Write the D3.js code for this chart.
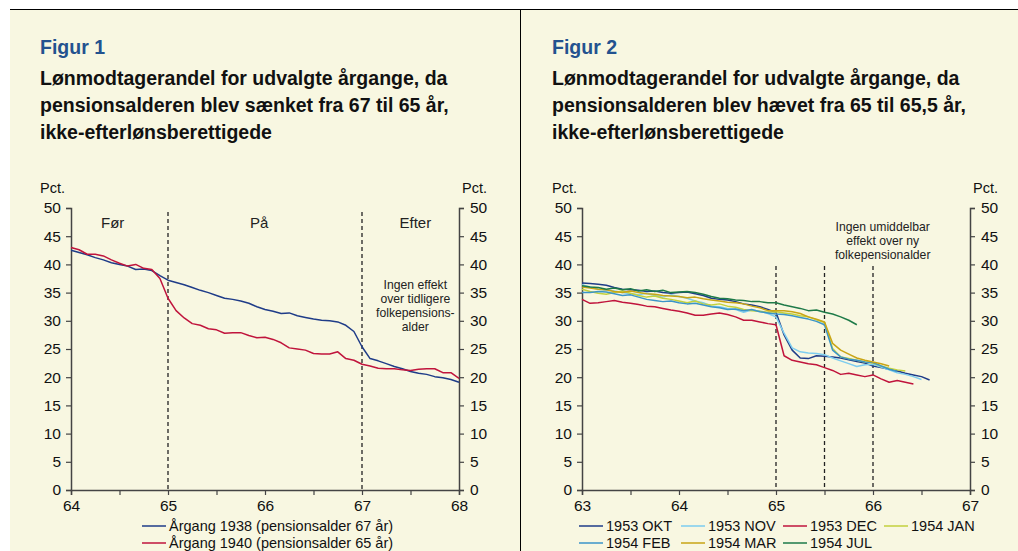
<!DOCTYPE html>
<head>
  <meta charset="utf-8">
  <script src="https://cdn.jsdelivr.net/npm/d3@7"></script>
  <style>
    body { margin:0; background:#fff; }
    svg text { font-family: Arial, "Liberation Sans", sans-serif; fill:#111; }
  </style>
</head>
<body>
<div id="figure"></div>
<script>
// ---- data, figur 1 (monthly from age 64) ----
var fig1Start = 64;
var aarg1938 = [42.5,42.1,41.7,41.2,40.8,40.3,40.0,39.7,39.1,39.2,38.9,38.0,
  37.2,36.8,36.4,35.9,35.4,35.0,34.5,34.0,33.8,33.5,33.1,32.5,
  32.0,31.7,31.3,31.4,30.9,30.6,30.3,30.1,30.0,29.8,29.2,28.1,
  25.4,23.3,22.9,22.4,21.9,21.5,21.0,20.7,20.5,20.1,19.9,19.6,19.1];
var aarg1940 = [43.0,42.6,41.8,41.8,41.5,40.8,40.2,39.7,40.0,39.3,39.1,37.5,
  34.0,31.8,30.5,29.5,29.2,28.6,28.4,27.8,27.9,27.9,27.4,27.0,
  27.1,26.7,26.1,25.2,25.0,24.8,24.2,24.1,24.1,24.5,23.3,23.0,
  22.3,22.0,21.6,21.5,21.5,21.3,21.2,21.4,21.5,21.5,20.8,20.8,19.8];
var fig1Names = ["Årgang 1938 (pensionsalder 67 år)", "Årgang 1940 (pensionsalder 65 år)"];
var fig1Colors = ["#1f3c88", "#c0143c"];

// ---- data, figur 2 (monthly from age 63) ----
var fig2Start = 63;
var okt1953 = [36.7,36.6,36.5,36.3,35.9,35.6,35.5,35.4,35.2,35.3,35.0,34.9,
  35.0,35.1,34.8,34.5,34.0,33.8,33.7,33.4,33.0,32.8,32.5,32.0,
  31.5,27.5,24.8,23.4,23.3,23.8,23.7,23.6,23.4,23.1,22.8,22.5,
  22.0,21.7,21.4,21.1,20.7,20.4,20.1,19.5];
var nov1953 = [36.4,36.0,35.6,35.4,35.3,35.0,34.8,34.6,34.9,34.5,34.2,34.6,
  34.3,34.0,33.5,33.2,32.6,32.5,32.2,32.0,31.5,31.9,31.7,31.3,
  30.7,27.8,25.2,24.5,24.3,24.2,24.0,23.4,22.9,22.4,21.9,22.2,
  22.3,21.8,21.3,20.8,20.5,20.1,19.6];
var dec1953 = [33.8,33.1,33.2,33.4,33.6,33.3,33.1,32.9,32.6,32.5,32.2,31.9,
  31.7,31.4,31.0,31.0,31.2,31.4,31.1,30.7,30.1,30.1,29.8,29.5,
  29.3,23.8,23.0,22.7,22.4,22.2,21.7,21.2,20.5,20.7,20.4,20.1,
  20.4,19.7,19.1,19.4,19.1,18.8];
var jan1954 = [35.6,35.2,34.9,34.7,35.0,35.3,34.9,34.5,34.2,34.4,34.0,33.8,
  33.5,33.2,33.5,33.0,32.8,33.0,32.6,32.4,32.0,31.8,31.7,31.5,
  31.6,31.4,31.2,30.9,30.7,30.2,29.7,25.1,23.6,23.3,23.0,22.7,
  22.5,22.0,21.6,21.3,21.1];
var feb1954 = [35.0,35.0,35.2,35.1,34.8,34.5,34.6,34.2,33.8,33.6,33.4,33.5,
  33.2,33.0,33.1,32.8,32.5,32.3,32.0,32.1,31.8,32.0,31.6,31.4,
  31.2,31.1,30.9,30.6,30.3,29.9,29.3,24.8,23.6,23.2,23.0,22.7,
  22.6,22.0,21.4,21.0];
var mar1954 = [36.0,35.8,35.6,35.5,35.2,35.0,35.3,35.0,34.8,34.7,34.5,34.4,
  34.3,34.1,34.2,33.9,33.7,33.5,33.3,33.2,33.0,32.6,32.3,31.8,
  31.8,31.8,31.6,31.3,30.7,30.3,29.8,26.0,24.8,24.1,23.4,23.0,
  22.7,22.4,22.0];
var jul1954 = [36.2,36.0,35.9,35.6,35.8,35.5,35.7,35.3,35.5,35.2,35.4,35.0,
  35.1,35.2,35.0,34.7,34.3,34.0,33.9,33.7,33.6,33.4,33.4,33.2,
  33.2,32.8,32.5,32.2,31.8,31.9,31.5,31.2,30.7,30.1,29.3];
var fig2Names = ["1953 OKT","1953 NOV","1953 DEC","1954 JAN","1954 FEB","1954 MAR","1954 JUL"];
var fig2Colors = ["#1f3c88","#7dcdef","#c0143c","#c3d13c","#3b95c8","#c9a515","#1e7a48"];

var yTicks = [0,5,10,15,20,25,30,35,40,45,50];

var W = 1018, H = 551;
var svg = d3.select("#figure").append("svg")
  .attr("width", W).attr("height", H);

svg.append("rect").attr("x",10).attr("y",9).attr("width",W-10).attr("height",H-9)
  .attr("fill","#f8f7e1");
svg.append("line").attr("x1",10).attr("x2",W).attr("y1",9.5).attr("y2",9.5)
  .attr("stroke","#000").attr("stroke-width",1);
svg.append("line").attr("x1",520.5).attr("x2",520.5).attr("y1",9).attr("y2",H)
  .attr("stroke","#000").attr("stroke-width",1);

function panel(o) {
  var g = svg.append("g");
  g.append("text").attr("x",o.left).attr("y",54).attr("font-size",19.5).attr("font-weight","bold")
    .style("fill","#23528f").text(o.fig);
  o.title.forEach(function(t,i){
    g.append("text").attr("x",o.left).attr("y",85+i*27).attr("font-size",19.5)
      .attr("font-weight","bold").text(t);
  });

  var x = d3.scaleLinear().domain(o.xdom).range([o.x0, o.x1]);
  var y = d3.scaleLinear().domain([0,50]).range([490,208]);

  g.append("text").attr("x",o.left).attr("y",193).attr("font-size",14.5).text("Pct.");
  g.append("text").attr("x",o.x1+3).attr("y",193).attr("font-size",14.5).text("Pct.");

  // dashed markers
  o.marks.forEach(function(m){
    g.append("line").attr("x1",x(m)).attr("x2",x(m)).attr("y1",o.markTop).attr("y2",490)
      .attr("stroke","#222").attr("stroke-width",1.3).attr("stroke-dasharray","4,3");
  });

  var yl = g.append("g").attr("transform","translate("+o.x0+",0)")
    .call(d3.axisLeft(y).tickValues(yTicks).tickSize(5).tickPadding(4));
  var yr = g.append("g").attr("transform","translate("+o.x1+",0)")
    .call(d3.axisRight(y).tickValues(yTicks).tickSize(5).tickPadding(6));
  var xMinor = d3.range(o.xdom[0], o.xdom[1]+0.01, 0.5);
  var xa = g.append("g").attr("transform","translate(0,490)")
    .call(d3.axisBottom(x).tickValues(xMinor).tickSize(5).tickPadding(5)
      .tickFormat(function(d){ return d % 1 === 0 ? d : ""; }));
  [yl,yr,xa].forEach(function(a){
    a.selectAll("path").attr("stroke","#444").attr("stroke-width",1.5);
    a.selectAll("line").attr("stroke","#444").attr("stroke-width",1.2);
    a.selectAll("text").attr("font-size",15.5).style("fill","#111")
      .attr("font-family","Arial, 'Liberation Sans', sans-serif");
  });
  yl.selectAll("text").attr("x",-10);

  var line = d3.line()
    .x(function(d,i){ return x(o.start + i/12); })
    .y(function(d){ return y(d); });
  o.series.forEach(function(s,i){
    g.append("path").datum(s).attr("d",line).attr("fill","none")
      .attr("stroke",o.colors[i]).attr("stroke-width",1.5).attr("stroke-linejoin","round");
  });

  o.notes.forEach(function(n){
    var t = g.append("text").attr("text-anchor","middle").attr("font-size",n.size)
      .style("fill","#222");
    n.lines.forEach(function(l,i){
      t.append("tspan").attr("x",x(n.at)).attr("y",y(n.v)+i*n.lh).text(l);
    });
  });

  // legend
  o.names.forEach(function(nm,i){
    var lx = o.legX[i % o.legCols], ly = 526 + Math.floor(i/o.legCols)*17;
    g.append("line").attr("x1",lx).attr("x2",lx+24).attr("y1",ly).attr("y2",ly)
      .attr("stroke",o.colors[i]).attr("stroke-width",1.5);
    g.append("text").attr("x",lx+27).attr("y",ly+5).attr("font-size",14.5).text(nm);
  });
}

panel({
  fig:"Figur 1", left:40,
  title:["Lønmodtagerandel for udvalgte årgange, da",
         "pensionsalderen blev sænket fra 67 til 65 år,",
         "ikke-efterlønsberettigede"],
  xdom:[64,68], x0:71, x1:459, start:fig1Start,
  series:[aarg1938, aarg1940], colors:fig1Colors, names:fig1Names,
  marks:[65,67], markTop:212,
  notes:[
    {at:64.43, v:46.4, size:15, lh:0, lines:["Før"]},
    {at:65.94, v:46.4, size:15, lh:0, lines:["På"]},
    {at:67.55, v:46.4, size:15, lh:0, lines:["Efter"]},
    {at:67.55, v:35.7, size:12.2, lh:14, lines:["Ingen effekt","over tidligere","folkepensions-","alder"]}
  ],
  legX:[142], legCols:1
});

panel({
  fig:"Figur 2", left:552,
  title:["Lønmodtagerandel for udvalgte årgange, da",
         "pensionsalderen blev hævet fra 65 til 65,5 år,",
         "ikke-efterlønsberettigede"],
  xdom:[63,67], x0:582, x1:970, start:fig2Start,
  series:[okt1953, nov1953, dec1953, jan1954, feb1954, mar1954, jul1954],
  colors:fig2Colors, names:fig2Names,
  marks:[65,65.5,66], markTop:266,
  notes:[
    {at:66.1, v:45.85, size:12.2, lh:14, lines:["Ingen umiddelbar","effekt over ny","folkepensionalder"]}
  ],
  legX:[579,681,783,884], legCols:4
});
</script>
</body>
